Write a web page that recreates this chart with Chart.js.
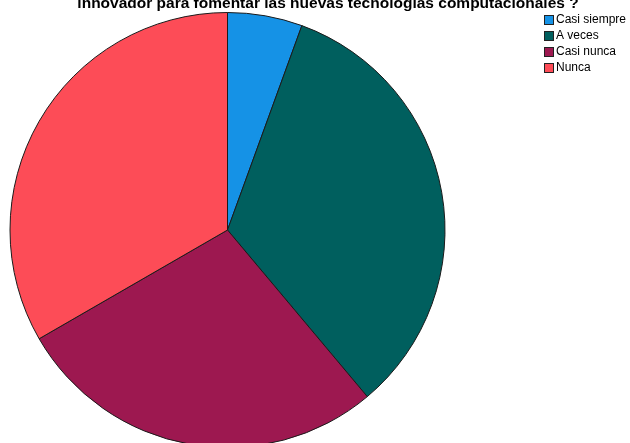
<!DOCTYPE html>
<html>
<head>
<meta charset="utf-8">
<script src="https://cdn.jsdelivr.net/npm/chart.js@4"></script>
<style>
html,body{margin:0;padding:0;background:#fff;overflow:hidden;width:630px;height:443px;}
#wrap{position:absolute;left:0;top:0;width:630px;height:460px;}
</style>
</head>
<body>
<div id="wrap"><canvas id="c" width="630" height="460"></canvas></div>
<script>
const titleText = "innovador para fomentar las nuevas tecnologías computacionales ?";
const categories = ["Casi siempre", "A veces", "Casi nunca", "Nunca"];
const values = [2, 12, 10, 12];
const colors = ["#1592E6", "#005F5E", "#9D1850", "#FD4C57"];

const overlay = {
  id: 'overlay',
  afterDraw(chart) {
    const ctx = chart.ctx;
    ctx.save();
    // title (partially clipped at top, as in reference)
    ctx.font = "bold 15.5px 'Liberation Sans', Arial, sans-serif";
    ctx.fillStyle = "#000";
    ctx.textAlign = "center";
    ctx.textBaseline = "alphabetic";
    ctx.fillText(titleText, 328, 8);
    // legend
    ctx.font = "12px 'Liberation Sans', Arial, sans-serif";
    ctx.textAlign = "left";
    ctx.textBaseline = "middle";
    const labels = chart.data.labels;
    const bg = chart.data.datasets[0].backgroundColor;
    labels.forEach((lab, i) => {
      const y = 15 + i * 16;
      ctx.fillStyle = bg[i];
      ctx.fillRect(544.5, y + 0.5, 9, 9);
      ctx.strokeStyle = "#222";
      ctx.lineWidth = 1;
      ctx.strokeRect(544.5, y + 0.5, 9, 9);
      ctx.fillStyle = "#000";
      ctx.fillText(lab, 556, y + 5);
    });
    ctx.restore();
  }
};

new Chart(document.getElementById('c'), {
  type: 'pie',
  data: {
    labels: categories,
    datasets: [{
      data: values,
      backgroundColor: colors,
      borderColor: "#1a1a1a",
      borderWidth: 1
    }]
  },
  options: {
    responsive: false,
    animation: false,
    layout: { padding: { left: 9.5, right: 184.5, top: 12, bottom: 12 } },
    plugins: {
      legend: { display: false },
      tooltip: { enabled: false },
      title: { display: false }
    }
  },
  plugins: [overlay]
});
</script>
</body>
</html>
